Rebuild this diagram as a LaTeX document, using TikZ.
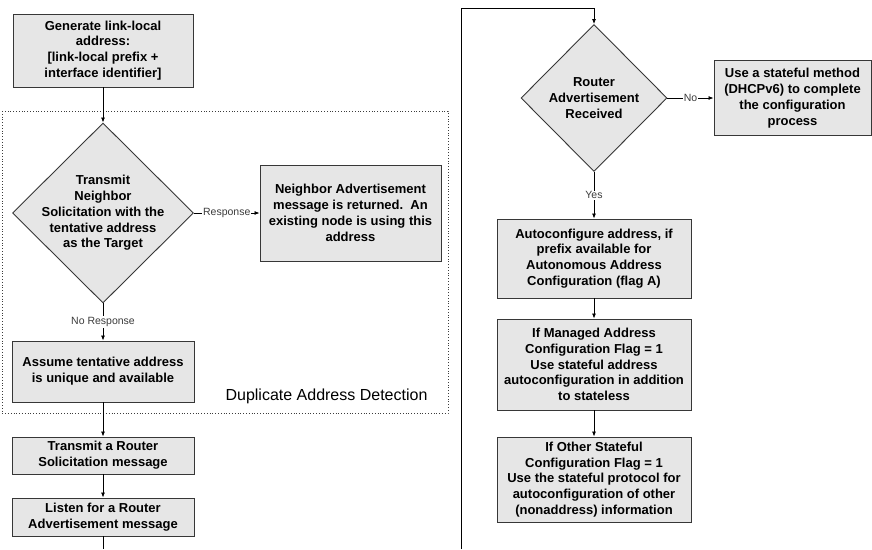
\documentclass[tikz,border=0pt]{standalone}
\usepackage{fontspec}
\setmainfont{Liberation Sans}
\usetikzlibrary{arrows.meta,shapes.geometric}

\definecolor{boxfill}{RGB}{230,230,230}
\definecolor{boxline}{RGB}{55,55,55}
\definecolor{answergray}{RGB}{60,60,60}
\newcommand{\stepfont}{\fontsize{13}{15.8}\selectfont\bfseries}

\begin{document}
\begin{tikzpicture}[
		x={(1pt,0pt)},
		y={(0pt,-1pt)},
		stepbox/.style={draw=boxline, fill=boxfill, line width=0.9pt, inner sep=0pt, align=center, font=\stepfont},
		decision/.style={diamond, draw=boxline, fill=boxfill, line width=0.9pt, inner sep=0pt},
		dtext/.style={inner sep=0pt, align=center, font=\stepfont},
		arrow/.style={line width=0.8pt, -{Latex[length=5pt,width=4pt]}},
		answer/.style={fill=white, inner sep=1pt, text=answergray, font=\fontsize{10.5}{12}\selectfont},
	]
		\useasboundingbox (0,0) rectangle (872,549);
		
		\draw[dotted, line width=0.8pt, draw=answergray] (2,111) rectangle (448,413);
		\node[anchor=base, font=\fontsize{16}{19}\selectfont] (dadname) at (326.5,400) {Duplicate Address Detection};
		
		\node[stepbox, minimum width=180, minimum height=73] (gen) at (103,50.5) {Generate link-local\\address:\\{[}link-local prefix +\\interface identifier{]}};
		\node[decision, minimum width=181, minimum height=180] (dad) at (103,213) {};
		\node[dtext] (dadtext) at (dad) {Transmit\\Neighbor\\Solicitation with the\\tentative address\\as the Target};
		\node[stepbox, minimum width=181, minimum height=96] (nadv) at (350.5,213) {Neighbor Advertisement\\message is returned.~~An\\existing node is using this\\address};
		\node[stepbox, minimum width=182, minimum height=61] (assume) at (103,371.5) {Assume tentative address\\is unique and available};
		\node[stepbox, minimum width=182, minimum height=37] (rsol) at (103,455.5) {Transmit a Router\\Solicitation message};
		\node[stepbox, minimum width=182, minimum height=38] (listen) at (103,517) {Listen for a Router\\Advertisement message};
		
		\node[decision, minimum width=146, minimum height=147] (ra) at (594,98) {};
		\node[dtext] (ratext) at (ra) {Router\\Advertisement\\Received};
		\node[stepbox, minimum width=157, minimum height=75] (dhcp) at (792.5,98) {Use a stateful method\\(DHCPv6) to complete\\the configuration\\process};
		\node[stepbox, minimum width=194, minimum height=79] (auto) at (594,258.5) {Autoconfigure address, if\\prefix available for\\Autonomous Address\\Configuration (flag A)};
		\node[stepbox, minimum width=194, minimum height=91] (managed) at (594,364.5) {If Managed Address\\Configuration Flag = 1\\Use stateful address\\autoconfiguration in addition\\to stateless};
		\node[stepbox, minimum width=194, minimum height=85] (other) at (594,479.5) {If Other Stateful\\Configuration Flag = 1\\Use the stateful protocol for\\autoconfiguration of other\\(nonaddress) information};
		
		\foreach \a/\b in {gen/dad, assume/rsol, rsol/listen, auto/managed, managed/other}{
			\draw[arrow] (\a) -- (\b);
		}
		
		\draw[arrow] (dad) -- node[answer]{Response} (nadv);
		\draw[arrow] (dad) -- node[answer]{No Response} (assume);
		\draw[arrow] (ra) -- node[answer]{No} (dhcp);
		\draw[arrow] (ra) -- node[answer]{Yes} (auto);
		
		\coordinate (leftend) at (103,549);
		\coordinate (rightend) at (461,549);
		\coordinate (turn) at (461,8);
		\draw[line width=0.8pt] (listen) -- (leftend);
		\draw[arrow] (rightend) -- (turn) -| (ra.north);
	\end{tikzpicture}
\end{document}
